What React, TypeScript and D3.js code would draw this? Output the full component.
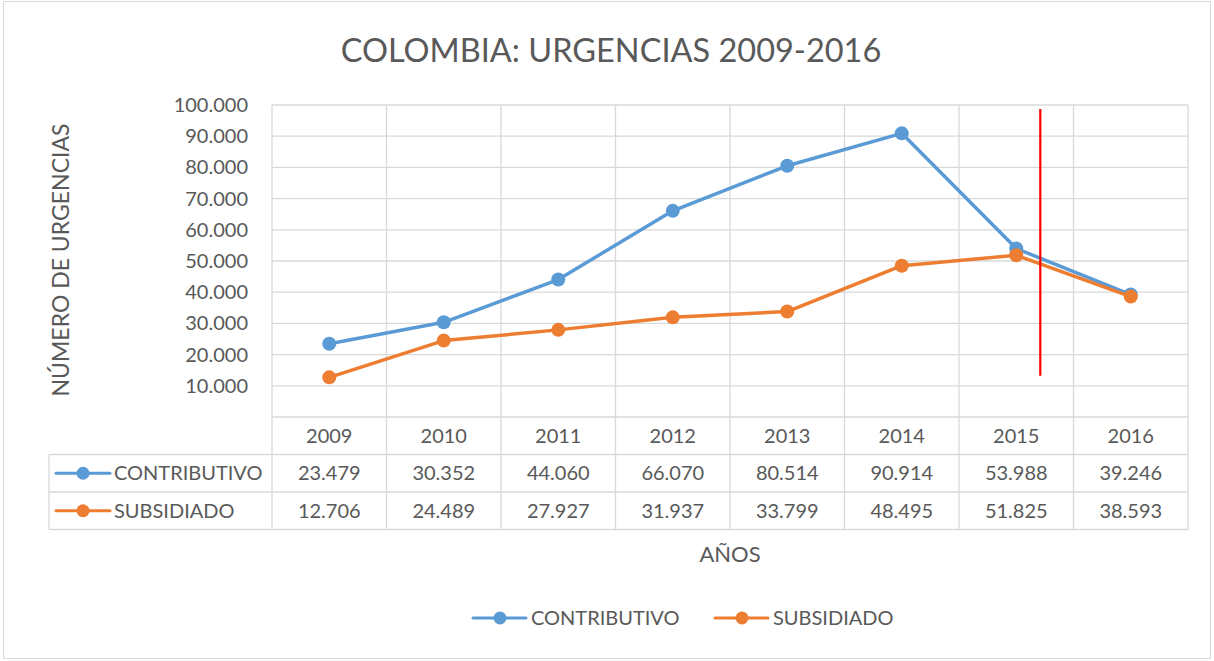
import { useRef, useEffect } from 'react';
import * as d3 from 'd3';

const years = ['2009', '2010', '2011', '2012', '2013', '2014', '2015', '2016'];
const contributivo = [23479, 30352, 44060, 66070, 80514, 90914, 53988, 39246];
const subsidiado = [12706, 24489, 27927, 31937, 33799, 48495, 51825, 38593];
const yTicks = [10000, 20000, 30000, 40000, 50000, 60000, 70000, 80000, 90000, 100000];
const seriesNames = ['CONTRIBUTIVO', 'SUBSIDIADO'];
const seriesColors = ['#5B9BD5', '#ED7D31'];
// red annotation line: position in year index units and value range
const redLine = { at: 6.71, from: 98700, to: 13200 };

export default function App() {
  const svgRef = useRef<SVGSVGElement>(null);
  const width = 1214;
  const height = 661;

  useEffect(() => {
    document.body.style.margin = '0';
    const font = 'Lato, "Open Sans", sans-serif';
    const textColor = '#595959';
    const gridColor = '#D9D9D9';
    const plot = { left: 272, right: 1188, top: 105, bottom: 417 };
    const rowH = 37.5;

    const svg = d3.select(svgRef.current);
    svg.selectAll('*').remove();

    const locale = d3.formatLocale({ decimal: ',', thousands: '.', grouping: [3], currency: ['$', ''] });
    const fmt = locale.format(',');

    const x = d3.scaleBand().domain(years).range([plot.left, plot.right]);
    const y = d3.scaleLinear().domain([0, 100000]).range([plot.bottom, plot.top]);
    const cx = (i: number) => (x(years[i]) as number) + x.bandwidth() / 2;

    // chart frame
    svg
      .append('rect')
      .attr('x', 3.5)
      .attr('y', 1.5)
      .attr('width', width - 7)
      .attr('height', height - 4)
      .attr('fill', 'white')
      .attr('stroke', gridColor);

    // title
    svg
      .append('text')
      .attr('x', 611)
      .attr('y', 62)
      .attr('text-anchor', 'middle')
      .attr('fill', textColor)
      .style('font-family', font)
      .style('font-size', '32.5px')
      .text('COLOMBIA: URGENCIAS 2009-2016');

    const grid = svg.append('g').attr('stroke', gridColor).attr('stroke-width', 1.3);

    // horizontal gridlines
    grid
      .selectAll('line.h')
      .data([0, ...yTicks])
      .join('line')
      .attr('x1', plot.left)
      .attr('x2', plot.right)
      .attr('y1', (d) => y(d))
      .attr('y2', (d) => y(d));

    // vertical lines through plot and table
    const tableBottom = plot.bottom + rowH * 3;
    grid
      .selectAll('line.v')
      .data([...years.map((d) => x(d) as number), plot.right])
      .join('line')
      .attr('x1', (d) => d)
      .attr('x2', (d) => d)
      .attr('y1', plot.top)
      .attr('y2', tableBottom);

    // table horizontal lines
    const tableLeft = 49;
    [plot.bottom + rowH, plot.bottom + rowH * 2, tableBottom].forEach((yy) => {
      grid.append('line').attr('x1', tableLeft).attr('x2', plot.right).attr('y1', yy).attr('y2', yy);
    });
    grid
      .append('line')
      .attr('x1', tableLeft)
      .attr('x2', tableLeft)
      .attr('y1', plot.bottom + rowH)
      .attr('y2', tableBottom);

    // y tick labels
    svg
      .append('g')
      .selectAll('text')
      .data(yTicks)
      .join('text')
      .attr('x', 248)
      .attr('y', (d) => y(d))
      .attr('dy', '0.35em')
      .attr('text-anchor', 'end')
      .attr('fill', textColor)
      .style('font-family', font)
      .style('font-size', '20px')
      .text((d) => fmt(d));

    // y axis title
    svg
      .append('text')
      .attr('transform', 'translate(69,260) rotate(-90)')
      .attr('text-anchor', 'middle')
      .attr('fill', textColor)
      .style('font-family', font)
      .style('font-size', '23px')
      .text('NÚMERO DE URGENCIAS');

    // table: header years
    svg
      .append('g')
      .selectAll('text')
      .data(years)
      .join('text')
      .attr('x', (_, i) => cx(i))
      .attr('y', plot.bottom + rowH / 2)
      .attr('dy', '0.35em')
      .attr('text-anchor', 'middle')
      .attr('fill', textColor)
      .style('font-family', font)
      .style('font-size', '20px')
      .text((d) => d);

    const allSeries = [contributivo, subsidiado];

    // table rows
    allSeries.forEach((vals, s) => {
      const rowY = plot.bottom + rowH * (s + 1) + rowH / 2;
      const row = svg.append('g');
      row
        .selectAll('text')
        .data(vals)
        .join('text')
        .attr('x', (_, i) => cx(i))
        .attr('y', rowY)
        .attr('dy', '0.35em')
        .attr('text-anchor', 'middle')
        .attr('fill', textColor)
        .style('font-family', font)
        .style('font-size', '20px')
        .text((d) => fmt(d));
      row
        .append('line')
        .attr('x1', 56)
        .attr('x2', 110)
        .attr('y1', rowY)
        .attr('y2', rowY)
        .attr('stroke', seriesColors[s])
        .attr('stroke-width', 3)
        .attr('stroke-linecap', 'round');
      row.append('circle').attr('cx', 83).attr('cy', rowY).attr('r', 6.5).attr('fill', seriesColors[s]);
      row
        .append('text')
        .attr('x', 114)
        .attr('y', rowY)
        .attr('dy', '0.35em')
        .attr('fill', textColor)
        .style('font-family', font)
        .style('font-size', '20px')
        .text(seriesNames[s]);
    });

    // lines and markers
    const line = d3
      .line<number>()
      .x((_, i) => cx(i))
      .y((d) => y(d));

    allSeries.forEach((vals, s) => {
      svg
        .append('path')
        .datum(vals)
        .attr('d', line)
        .attr('fill', 'none')
        .attr('stroke', seriesColors[s])
        .attr('stroke-width', 3.5)
        .attr('stroke-linejoin', 'round');
      svg
        .append('g')
        .selectAll('circle')
        .data(vals)
        .join('circle')
        .attr('cx', (_, i) => cx(i))
        .attr('cy', (d) => y(d))
        .attr('r', 7)
        .attr('fill', seriesColors[s]);
    });

    // red annotation line
    const redX = plot.left + x.step() * redLine.at;
    svg
      .append('line')
      .attr('x1', redX)
      .attr('x2', redX)
      .attr('y1', y(redLine.from))
      .attr('y2', y(redLine.to))
      .attr('stroke', '#FF0000')
      .attr('stroke-width', 2.2);

    // x axis title
    svg
      .append('text')
      .attr('x', (plot.left + plot.right) / 2)
      .attr('y', 554)
      .attr('dy', '0.35em')
      .attr('text-anchor', 'middle')
      .attr('fill', textColor)
      .style('font-family', font)
      .style('font-size', '22px')
      .text('AÑOS');

    // legend
    const legendX = [473, 715];
    seriesNames.forEach((name, s) => {
      const g = svg.append('g').attr('transform', `translate(${legendX[s]},618)`);
      g.append('line')
        .attr('x1', 0)
        .attr('x2', 53)
        .attr('stroke', seriesColors[s])
        .attr('stroke-width', 3)
        .attr('stroke-linecap', 'round');
      g.append('circle').attr('cx', 27).attr('r', 6.5).attr('fill', seriesColors[s]);
      g.append('text')
        .attr('x', 58)
        .attr('dy', '0.35em')
        .attr('fill', textColor)
        .style('font-family', font)
        .style('font-size', '20px')
        .text(name);
    });
  }, []);

  return <svg ref={svgRef} width={width} height={height} style={{ display: 'block' }}></svg>;
}
